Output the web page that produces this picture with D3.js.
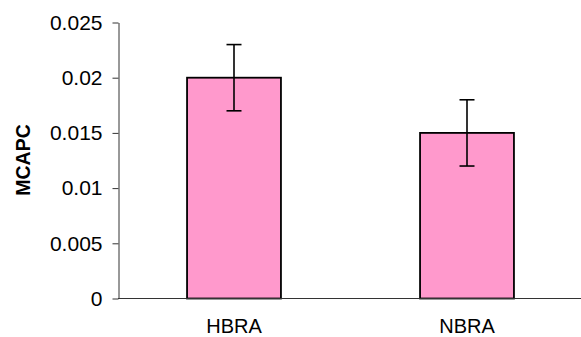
<!DOCTYPE html>
<html><head><meta charset="utf-8">
<script src="https://cdn.jsdelivr.net/npm/d3@7"></script>
<style>body{margin:0;background:#fff}svg{display:block}</style>
</head><body>
<script>
const categories = ["HBRA", "NBRA"];
const values = [0.02, 0.015];
const errLow = [0.017, 0.012];
const errHigh = [0.023, 0.018];
const yTicks = [0, 0.005, 0.01, 0.015, 0.02, 0.025];
const yTickLabels = ["0", "0.005", "0.01", "0.015", "0.02", "0.025"];

const W = 581, H = 337;
const svg = d3.select("body").append("svg").attr("width", W).attr("height", H);
const font = "'Liberation Sans', Arial, sans-serif";

const x = d3.scaleBand().domain(categories).range([117.5, 583.5])
  .paddingInner(0.597).paddingOuter(0.2985);
const y = d3.scaleLinear().domain([0, 0.025]).range([298.5, 22.5]);

// bars
svg.selectAll("rect.bar").data(categories).join("rect")
  .attr("class", "bar")
  .attr("x", d => x(d))
  .attr("y", (d, i) => y(values[i]))
  .attr("width", x.bandwidth())
  .attr("height", (d, i) => y(0) - y(values[i]))
  .attr("fill", "#FF99CC")
  .attr("stroke", "#000")
  .attr("stroke-width", 1.8);

// error bars
const eb = svg.append("g").attr("stroke", "#000").attr("stroke-width", 1.6);
categories.forEach((c, i) => {
  const cx = x(c) + x.bandwidth() / 2;
  eb.append("line").attr("x1", cx).attr("x2", cx).attr("y1", y(errLow[i])).attr("y2", y(errHigh[i]));
  eb.append("line").attr("x1", cx - 7.5).attr("x2", cx + 7.5).attr("y1", y(errLow[i])).attr("y2", y(errLow[i]));
  eb.append("line").attr("x1", cx - 7.5).attr("x2", cx + 7.5).attr("y1", y(errHigh[i])).attr("y2", y(errHigh[i]));
});

// y axis
const yAxis = d3.axisLeft(y).tickValues(yTicks)
  .tickFormat((d, i) => yTickLabels[i]).tickSize(6).tickPadding(10).tickSizeOuter(0);
const gy = svg.append("g").attr("transform", "translate(118.5,0)").call(yAxis);
gy.select(".domain").attr("stroke", "#333");
gy.selectAll(".tick line").attr("stroke", "#333");
gy.selectAll(".tick text").attr("font-family", font).attr("font-size", 21).attr("fill", "#000");

// x axis
const xAxis = d3.axisBottom(x).tickSize(0).tickPadding(20).tickSizeOuter(0);
const gx = svg.append("g").attr("transform", `translate(0,${y(0)})`).call(xAxis);
gx.select(".domain").attr("stroke", "#333").attr("d", `M118,0H${W}`);
gx.selectAll(".tick text").attr("font-family", font).attr("font-size", 20).attr("fill", "#000");

// y label
svg.append("text")
  .attr("transform", "translate(30,160) rotate(-90)")
  .attr("text-anchor", "middle")
  .attr("font-family", font).attr("font-size", 19.5).attr("font-weight", "bold")
  .text("MCAPC");
</script>
</body></html>
